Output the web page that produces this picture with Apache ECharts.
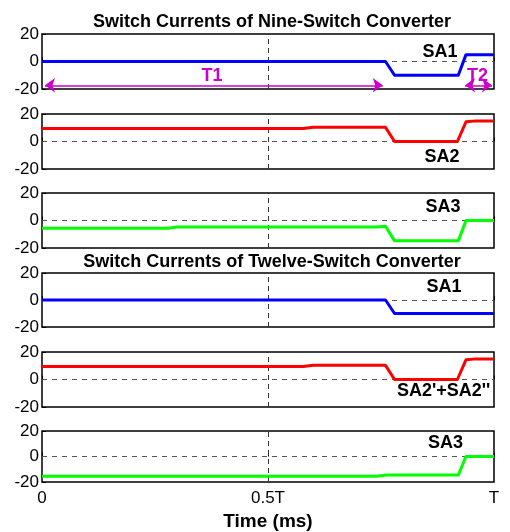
<!DOCTYPE html>
<html>
<head>
<meta charset="utf-8">
<script src="https://cdn.jsdelivr.net/npm/echarts@6/dist/echarts.min.js"></script>
<style>
  html, body { margin: 0; padding: 0; background: #fff; }
  #chart { width: 510px; height: 532px; }
</style>
</head>
<body>
<div id="chart"></div>
<script>
// Time axis in fractions of one period T
const xTicks = [0, 0.5, 1];
const xTickLabels = { 0: '0', 0.5: '0.5T', 1: 'T' };
const yTicks = [-20, 0, 20];

// Nine-switch converter currents (A)
const tNineSA1 = [0, 0.76, 0.78, 0.921, 0.938, 1];
const nineSA1  = [0, 0, -10, -10, 5, 5];
const tNineSA2 = [0, 0.578, 0.6, 0.76, 0.78, 0.919, 0.938, 0.96, 1];
const nineSA2  = [9.5, 9.5, 10.3, 10.3, 0, 0, 14.3, 15, 15];
const tNineSA3 = [0, 0.279, 0.298, 0.74, 0.76, 0.78, 0.921, 0.938, 1];
const nineSA3  = [-5.7, -5.7, -4.8, -4.8, -4.2, -14.8, -14.8, 0, 0];

// Twelve-switch converter currents (A)
const tTwelveSA1 = [0, 0.76, 0.78, 1];
const twelveSA1  = [0, 0, -10, -10];
const tTwelveSA2 = [0, 0.578, 0.6, 0.76, 0.78, 0.919, 0.938, 0.96, 1];
const twelveSA2  = [9.5, 9.5, 10.3, 10.3, 0, 0, 14.3, 15, 15];
const tTwelveSA3 = [0, 0.74, 0.762, 0.921, 0.938, 1];
const twelveSA3  = [-15.4, -15.4, -14.6, -14.6, 0, 0];

// Interval markers (start, end) in fractions of T, drawn at this current level
const intervalT1 = [0.0066, 0.754];
const intervalT2 = [0.936, 0.9956];
const intervalLevel = -17.3;

const traceNames = ['SA1', 'SA2', 'SA3', 'SA1', "SA2'+SA2''", 'SA3'];
const traces = [
  [tNineSA1, nineSA1], [tNineSA2, nineSA2], [tNineSA3, nineSA3],
  [tTwelveSA1, twelveSA1], [tTwelveSA2, twelveSA2], [tTwelveSA3, twelveSA3]
];

const BLUE = '#0000ff', RED = '#ff0000', GREEN = '#00ff00', MAGENTA = '#cc00cc';
const traceColors = [BLUE, RED, GREEN, BLUE, RED, GREEN];
const gridTops = [34, 114, 193, 273, 352, 431];
const gridHeights = [55, 55, 55, 54, 55, 54];
const FONT = '"Liberation Sans", Arial, sans-serif';

const grids = [], xAxes = [], yAxes = [], series = [];
traces.forEach(([t, v], i) => {
  grids.push({
    left: 42, right: 16, top: gridTops[i], height: gridHeights[i],
    show: true, borderColor: '#000', borderWidth: 1.5, backgroundColor: 'transparent'
  });
  const last = i === traces.length - 1;
  xAxes.push({
    gridIndex: i, type: 'value', min: 0, max: 1, interval: 0.5,
    axisLine: { show: false },
    axisTick: { show: true, inside: true, length: 4, lineStyle: { color: '#000' } },
    splitLine: { show: false },
    axisLabel: {
      show: last, color: '#000', fontSize: 17, fontFamily: FONT, margin: 8,
      formatter: (val) => xTickLabels[val] !== undefined ? xTickLabels[val] : ''
    },
    name: last ? 'Time (ms)' : '', nameLocation: 'middle', nameGap: 30,
    nameTextStyle: { color: '#000', fontSize: 19, fontWeight: 'bold', fontFamily: FONT }
  });
  yAxes.push({
    gridIndex: i, type: 'value', min: yTicks[0], max: yTicks[yTicks.length - 1], interval: 20,
    axisLine: { show: false },
    axisTick: { show: true, inside: true, length: 4, lineStyle: { color: '#000' } },
    splitLine: { show: false },
    axisLabel: { color: '#000', fontSize: 17, fontFamily: FONT, margin: 3 }
  });
  // reference lines: zero current and half period, kept beneath the traces
  series.push({
    type: 'line', xAxisIndex: i, yAxisIndex: i, data: [], z: 1, silent: true,
    markLine: {
      z: 1, silent: true, symbol: 'none', animation: false, label: { show: false },
      data: [
        { yAxis: 0, lineStyle: { color: '#555', type: [5, 5], width: 1 } },
        { xAxis: 0.5, lineStyle: { color: '#333', type: [5, 4], width: 1 } }
      ]
    }
  });
  series.push({
    type: 'line', name: traceNames[i], xAxisIndex: i, yAxisIndex: i, z: 3,
    data: t.map((x, k) => [x, v[k]]),
    showSymbol: false, symbol: 'none', animation: false,
    lineStyle: { color: traceColors[i], width: 3, join: 'round' }
  });
});

// T1 / T2 interval arrows on the first panel
[intervalT1, intervalT2].forEach((iv) => {
  series.push({
    type: 'line', xAxisIndex: 0, yAxisIndex: 0, data: [], z: 4, silent: true,
    markLine: {
      z: 4, silent: true, animation: false, symbol: ['arrow', 'arrow'], symbolSize: [11, 10],
      label: { show: false },
      lineStyle: { color: MAGENTA, type: 'solid', width: 1.5 },
      data: [[{ coord: [iv[0], intervalLevel] }, { coord: [iv[1], intervalLevel] }]]
    }
  });
});

const labelStyle = (size, color) => ({ fontSize: size, fontWeight: 'bold', fontFamily: FONT, fill: color });
const traceLabelPos = [[440, 52], [442, 157.5], [443, 207], [444, 287.5], [397, 391], [445.5, 443.5]];
const graphics = traceNames.map((name, i) => ({
  type: 'text', z: 10,
  x: traceLabelPos[i][0], y: traceLabelPos[i][1],
  style: Object.assign({ text: name, align: i === 4 ? 'left' : 'center', verticalAlign: 'middle' }, labelStyle(18, '#000'))
}));
// keep the long label inside the right frame edge
graphics.push({ type: 'rect', z: 11, shape: { x: 495, y: 378, width: 15, height: 26 }, style: { fill: '#fff' } });
graphics.push({ type: 'text', z: 10, x: 212, y: 76, style: Object.assign({ text: 'T1', align: 'center', verticalAlign: 'middle' }, labelStyle(18, MAGENTA)) });
graphics.push({ type: 'text', z: 10, x: 477.5, y: 76.5, style: Object.assign({ text: 'T2', align: 'center', verticalAlign: 'middle' }, labelStyle(18, MAGENTA)) });

const chart = echarts.init(document.getElementById('chart'), null, { renderer: 'canvas' });
chart.setOption({
  animation: false,
  backgroundColor: '#fff',
  title: [
    { text: 'Switch Currents of Nine-Switch Converter', left: 272, top: 13, padding: 0, textAlign: 'center',
      textStyle: { fontSize: 18, fontWeight: 'bold', color: '#000', fontFamily: FONT } },
    { text: 'Switch Currents of Twelve-Switch Converter', left: 272, top: 253, padding: 0, textAlign: 'center',
      textStyle: { fontSize: 18, fontWeight: 'bold', color: '#000', fontFamily: FONT } }
  ],
  grid: grids, xAxis: xAxes, yAxis: yAxes, series: series, graphic: graphics
});
</script>
</body>
</html>
